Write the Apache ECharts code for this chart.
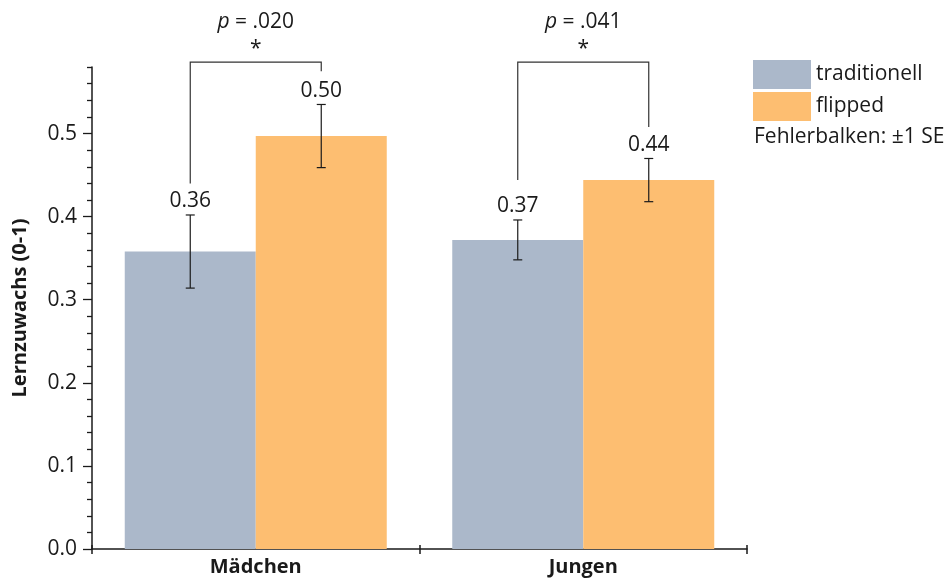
<!DOCTYPE html>
<html><head><meta charset="utf-8">
<script src="https://cdn.jsdelivr.net/npm/echarts@6/dist/echarts.min.js"></script>
<style>html,body{margin:0;padding:0;background:#fff}#c{width:947px;height:581px}</style>
</head><body><div id="c"></div>
<script>
// ---- data ----
const categories = ['Mädchen', 'Jungen'];
const seriesNames = ['traditionell', 'flipped'];
const traditionellMean = [0.358, 0.372];
const traditionellSE = [0.044, 0.024];
const flippedMean = [0.497, 0.444];
const flippedSE = [0.038, 0.026];
const yTickValues = [0, 0.1, 0.2, 0.3, 0.4, 0.5];
const pValues = ['.020', '.041'];
const sigMarks = ['*', '*'];
// significance bracket legs (value units): left leg end, right leg end, top
const bracketLeftEnd = [0.440, 0.444];
const bracketRightEnd = [0.575, 0.508];
const bracketTopValue = [0.586, 0.586];
const noteText = 'Fehlerbalken: \u00B11 SE';

const FONT = '"Open Sans", "Noto Sans", sans-serif';
const FS = 21;
const COLORS = ['#abb8ca', '#fdbe71'];
const CAT_GAP = 0.2;

function barOffset(api, pos) {
  const catW = api.size([1, 0])[0];
  const bw = catW * (1 - CAT_GAP) / 2;
  return (pos - 0.5) * bw;
}

function errRender(pos) {
  return function (params, api) {
    const ci = api.value(0), m = api.value(1), se = api.value(2);
    const x = api.coord([ci, 0])[0] + barOffset(api, pos);
    const yT = api.coord([ci, m + se])[1];
    const yB = api.coord([ci, m - se])[1];
    const cap = 4.5;
    const st = { stroke: '#1a1a1a', lineWidth: 1.2 };
    return {
      type: 'group', children: [
        { type: 'line', shape: { x1: x, y1: yT, x2: x, y2: yB }, style: st },
        { type: 'line', shape: { x1: x - cap, y1: yT, x2: x + cap, y2: yT }, style: st },
        { type: 'line', shape: { x1: x - cap, y1: yB, x2: x + cap, y2: yB }, style: st },
        { type: 'text', x: x, y: yT - 3, style: { text: m.toFixed(2), fontSize: FS, fontFamily: FONT, fill: '#1a1a1a', align: 'center', verticalAlign: 'bottom' } }
      ]
    };
  };
}

function bracketRender(params, api) {
  const ci = api.value(0);
  const cx = api.coord([ci, 0])[0];
  const xl = cx + barOffset(api, 0), xr = cx + barOffset(api, 1);
  const yl = api.coord([ci, api.value(1)])[1];
  const yr = api.coord([ci, api.value(2)])[1];
  const yt = api.coord([ci, api.value(3)])[1];
  const i = params.dataIndex;
  return {
    type: 'group', children: [
      { type: 'polyline', shape: { points: [[xl, yl], [xl, yt], [xr, yt], [xr, yr]] }, style: { stroke: '#333', lineWidth: 1.2, fill: null } },
      { type: 'text', x: cx, y: yt - 13, style: { text: sigMarks[i], fontSize: FS, fontFamily: FONT, fill: '#1a1a1a', align: 'center', verticalAlign: 'middle' } },
      { type: 'text', x: cx, y: yt - 40, style: { text: '{i|p} = ' + pValues[i], fontSize: FS, fontFamily: FONT, fill: '#1a1a1a', align: 'center', verticalAlign: 'middle', rich: { i: { fontStyle: 'italic', fontSize: FS, fontFamily: FONT, fill: '#1a1a1a' } } } }
    ]
  };
}

const chart = echarts.init(document.getElementById('c'), null, { renderer: 'canvas' });
chart.setOption({
  animation: false,
  backgroundColor: '#fff',
  textStyle: { fontFamily: FONT },
  grid: { left: 92, right: 200, top: 67, bottom: 32, containLabel: false },
  legend: {
    data: seriesNames, orient: 'vertical', left: 748, top: 55,
    itemWidth: 58, itemHeight: 29, itemGap: 3, icon: 'rect',
    textStyle: { fontSize: FS, fontFamily: FONT, color: '#1a1a1a' }
  },
  graphic: [{ type: 'text', left: 754, top: 127, style: { text: noteText, fontSize: FS, fontFamily: FONT, fill: '#1a1a1a' } }],
  xAxis: [{
    type: 'category', data: categories, boundaryGap: true,
    axisLine: { lineStyle: { color: '#1a1a1a', width: 1.5 } },
    axisTick: { show: true, length: 5, alignWithLabel: false, lineStyle: { color: '#1a1a1a', width: 1.5 } },
    axisLabel: { fontSize: 20, fontWeight: 'bold', fontFamily: FONT, color: '#1a1a1a', margin: 8 }
  }, {
    type: 'category', data: categories, boundaryGap: true, position: 'bottom',
    axisLine: { show: false },
    axisTick: { show: true, inside: true, length: 4, lineStyle: { color: '#1a1a1a', width: 1.5 } },
    axisLabel: { show: false }
  }],
  yAxis: {
    type: 'value', min: 0, max: 0.5801, interval: 0.1,
    name: 'Lernzuwachs (0-1)', nameLocation: 'middle', nameGap: 62, nameRotate: 90,
    nameTextStyle: { fontSize: 20, fontWeight: 'bold', fontFamily: FONT, color: '#1a1a1a' },
    axisLine: { show: true, lineStyle: { color: '#1a1a1a', width: 1.5 } },
    axisTick: { show: true, length: 9, customValues: yTickValues, lineStyle: { color: '#1a1a1a', width: 1.3 } },
    minorTick: { show: true, splitNumber: 5, length: 5, lineStyle: { color: '#1a1a1a', width: 1.3 } },
    axisLabel: { customValues: yTickValues, fontSize: FS, fontFamily: FONT, color: '#1a1a1a', margin: 15, formatter: v => v.toFixed(1) },
    splitLine: { show: false }, minorSplitLine: { show: false }
  },
  series: [
    { name: seriesNames[0], type: 'bar', data: traditionellMean, barGap: '0%', barCategoryGap: '20%', itemStyle: { color: COLORS[0] } },
    { name: seriesNames[1], type: 'bar', data: flippedMean, barGap: '0%', barCategoryGap: '20%', itemStyle: { color: COLORS[1] } },
    { type: 'custom', renderItem: errRender(0), clip: false, z: 5, encode: { x: 0, y: 1 },
      data: categories.map((c, i) => [i, traditionellMean[i], traditionellSE[i]]) },
    { type: 'custom', renderItem: errRender(1), clip: false, z: 5, encode: { x: 0, y: 1 },
      data: categories.map((c, i) => [i, flippedMean[i], flippedSE[i]]) },
    { type: 'custom', renderItem: bracketRender, clip: false, z: 5, encode: { x: 0, y: 3 },
      data: categories.map((c, i) => [i, bracketLeftEnd[i], bracketRightEnd[i], bracketTopValue[i]]) }
  ]
});
</script></body></html>
